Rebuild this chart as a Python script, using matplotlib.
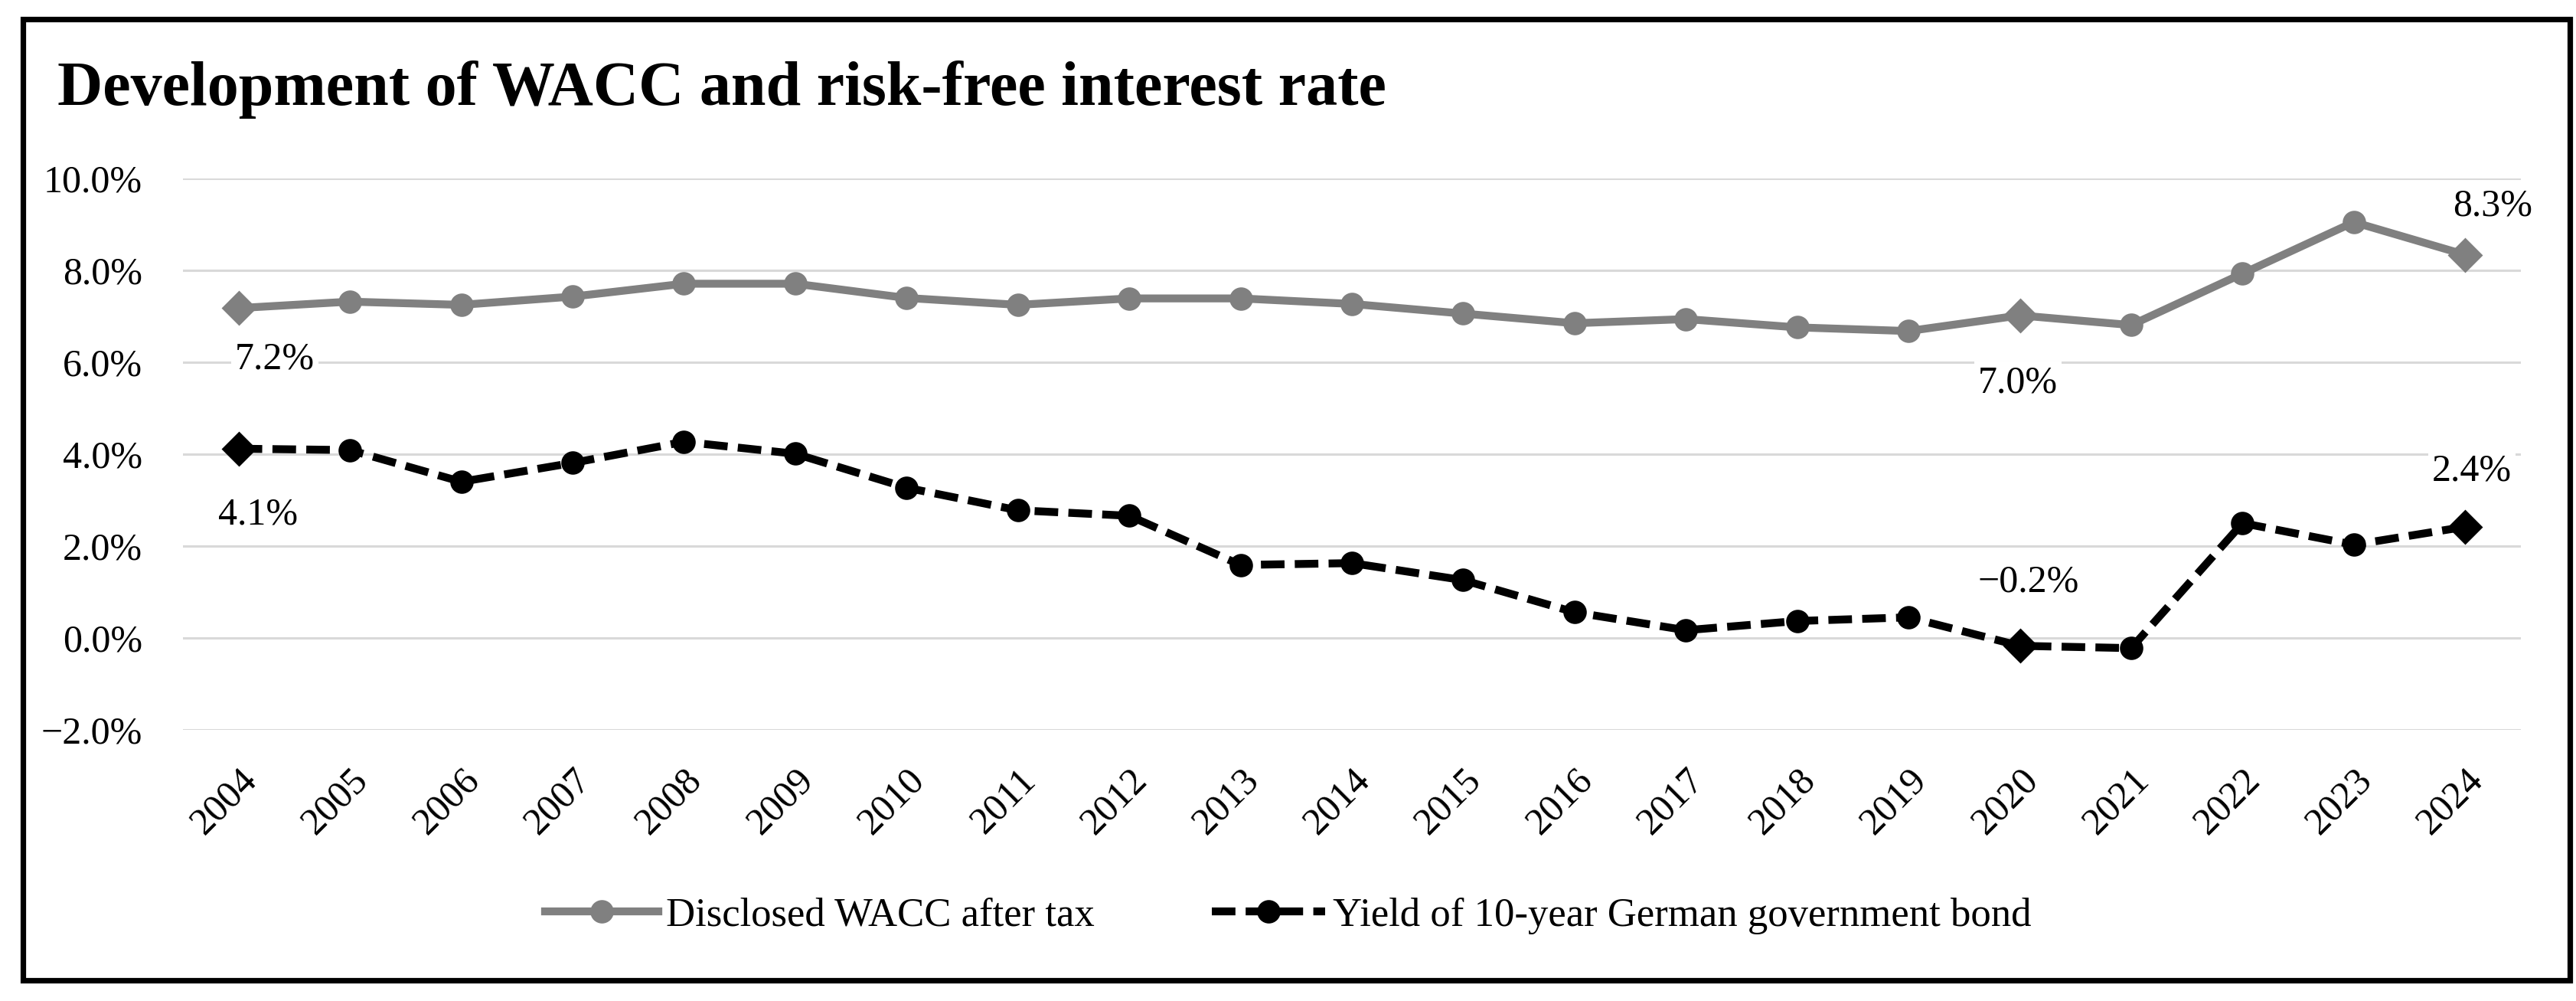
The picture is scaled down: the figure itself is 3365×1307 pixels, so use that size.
import numpy as np
import matplotlib
matplotlib.use("Agg")
import matplotlib.pyplot as plt
from matplotlib.patches import Rectangle

# data
years = [str(y) for y in range(2004, 2025)]
wacc = [7.18, 7.32, 7.25, 7.43, 7.71, 7.71, 7.40, 7.25, 7.39, 7.39, 7.27,
        7.06, 6.85, 6.94, 6.76, 6.68, 7.02, 6.81, 7.93, 9.05, 8.34]
bund = [4.12, 4.09, 3.40, 3.81, 4.27, 4.01, 3.27, 2.78, 2.66, 1.59, 1.63,
        1.26, 0.56, 0.17, 0.37, 0.45, -0.17, -0.22, 2.50, 2.03, 2.42]
yticks = [-2, 0, 2, 4, 6, 8, 10]
highlight = [0, 16, 20]   # points with diamonds + data labels

GREY = "#808080"
plt.rcParams['font.family'] = ['Liberation Serif', 'DejaVu Serif']

def pct(v):
    return f"{v:.1f}%".replace("-", "\u2212")

fig = plt.figure(figsize=(16.83, 6.535), dpi=200)
ax = fig.add_axes([0.0710, 0.2708, 0.9073, 0.5509])

x = np.arange(len(years))
circles = [i for i in x if i not in highlight]

ax.plot(x, wacc, color=GREY, lw=3.7, marker='o', ms=10, markevery=circles,
        label="Disclosed WACC after tax", zorder=3)
ax.plot(x[highlight], np.array(wacc)[highlight], ls='none', marker='D', ms=10.5,
        color=GREY, zorder=4)
ax.plot(x, bund, color='black', lw=3.7, ls=(0, (3, 1.3)), marker='o', ms=10,
        markevery=circles, label="Yield of 10-year German government bond", zorder=3)
ax.plot(x[highlight], np.array(bund)[highlight], ls='none', marker='D', ms=10.5,
        color='black', zorder=4)

# data labels (offsets in points)
box = dict(boxstyle='square,pad=0.1', fc='white', ec='none')
lab_w = {0: (17, -24), 16: (-1, -32), 20: (13, 23)}
lab_b = {0: (9, -31), 16: (4, 30), 20: (3, 26)}
for i, (dx, dy) in lab_w.items():
    ax.annotate(pct(wacc[i]), (x[i], wacc[i]), xytext=(dx, dy), textcoords='offset points',
                ha='center', va='center', fontsize=18, bbox=box, zorder=2)
for i, (dx, dy) in lab_b.items():
    ax.annotate(pct(bund[i]), (x[i], bund[i]), xytext=(dx, dy), textcoords='offset points',
                ha='center', va='center', fontsize=18, bbox=box, zorder=2)

ax.set_xlim(-0.5, len(years) - 0.5)
ax.set_ylim(-2, 10)
ax.set_yticks(yticks)
ax.set_yticklabels([pct(v) for v in yticks])
ax.set_xticks(x)
ax.set_xticklabels(years, rotation=45, ha='right', va='top', rotation_mode='anchor')
ax.tick_params(axis='y', length=0, pad=19, labelsize=18)
ax.tick_params(axis='x', length=0, pad=15, labelsize=18)
ax.grid(axis='y', color='#d9d9d9', lw=1.1, zorder=0)
ax.set_axisbelow(True)
for s in ax.spines.values():
    s.set_visible(False)

fig.text(0.0222, 0.8952, "Development of WACC and risk-free interest rate",
         fontsize=29.5, fontweight='bold', va='baseline', ha='left')

fig.legend(loc='center', bbox_to_anchor=(0.5, 0.085), ncol=2, frameon=False,
           fontsize=19, handlelength=2.8, handletextpad=0.2, columnspacing=2.9)

fig.patches.append(Rectangle((0.0089, 0.0207), 0.9884, 0.9603, transform=fig.transFigure,
                             fill=False, ec='black', lw=2.6))

fig.savefig("out.png", dpi=200)
